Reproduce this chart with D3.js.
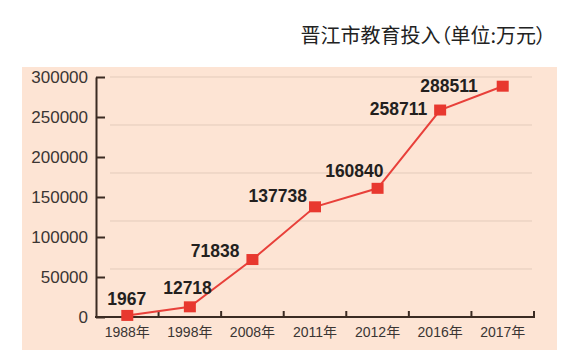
<!DOCTYPE html>
<html><head><meta charset="utf-8">
<script src="https://cdn.jsdelivr.net/npm/d3@7"></script>
<style>html,body{margin:0;padding:0;background:#fff;}svg{display:block;}.ttl{font-feature-settings:"palt" 1;}</style>
</head><body>
<svg id="c" width="578" height="360"></svg>
<script>
const title = "晋江市教育投入（单位:万元）";
const years = ["1988年","1998年","2008年","2011年","2012年","2016年","2017年"];
const values = [1967, 12718, 71838, 137738, 160840, 258711, 288511];
const yTicks = [0, 50000, 100000, 150000, 200000, 250000, 300000];
const gridValues = [60000, 120000, 180000, 240000, 300000];
// label placement (layout only): end-anchored offset from point
const labelDx = [19, 22, -13, -8, 6, -13, -25];
const labelDy = [-10, -13, -3, -5, -11, 5, 6];

(function () {
const svg = d3.select("#c");
const pLeft = 96, pRight = 534, pTop = 77, pBottom = 317;

svg.append("rect").attr("x", 22).attr("y", 67).attr("width", 535).attr("height", 283).attr("fill", "#fde4d4");

svg.append("text").attr("class", "ttl").attr("x", 546).attr("y", 43).attr("text-anchor", "end")
  .attr("font-family", "'Noto Sans CJK SC', sans-serif").attr("font-size", 20).attr("fill", "#222").text(title);

const x = d3.scaleBand().domain(years).range([pLeft, pRight]).padding(0);
const y = d3.scaleLinear().domain([0, 300000]).range([pBottom, pTop]);

// gridlines
svg.append("g").selectAll("line").data(gridValues).join("line")
  .attr("x1", 110).attr("x2", 532).attr("y1", d => y(d)).attr("y2", d => y(d))
  .attr("stroke", "#e3cbbb").attr("stroke-width", 1);

// y axis
const gy = svg.append("g").attr("transform", `translate(${pLeft},0)`)
  .call(d3.axisLeft(y).tickValues(yTicks).tickFormat(d3.format("d")).tickSizeInner(-9).tickSizeOuter(0).tickPadding(8));
gy.select(".domain").attr("stroke", "#3b2b22").attr("stroke-width", 2);
gy.selectAll(".tick line").attr("stroke", "#3b2b22").attr("stroke-width", 2);
gy.selectAll("text").attr("font-family", "'Liberation Sans', Arial, sans-serif").attr("font-size", 17).attr("fill", "#3a3533");

// x axis
const gx = svg.append("g").attr("transform", `translate(0,${pBottom})`)
  .call(d3.axisBottom(x).tickSize(0).tickPadding(10));
gx.select(".domain").remove();
gx.selectAll("text").attr("font-family", "'Liberation Sans', 'Noto Sans CJK SC', sans-serif").attr("font-size", 14).attr("fill", "#3a3533");
svg.append("line").attr("x1", pLeft - 1).attr("x2", pRight + 1).attr("y1", pBottom).attr("y2", pBottom)
  .attr("stroke", "#3b2b22").attr("stroke-width", 2);
const bounds = years.slice(1).map(d => x(d)).concat([pRight]);
svg.append("g").selectAll("line").data(bounds).join("line")
  .attr("x1", d => d).attr("x2", d => d).attr("y1", pBottom).attr("y2", pBottom - 6)
  .attr("stroke", "#3b2b22").attr("stroke-width", 2);

const cx = (d, i) => x(years[i]) + x.bandwidth() / 2;
const line = d3.line().x((d, i) => cx(d, i)).y(d => y(d));
svg.append("path").datum(values).attr("d", line).attr("fill", "none").attr("stroke", "#e8403a").attr("stroke-width", 2);

svg.append("g").selectAll("rect").data(values).join("rect")
  .attr("x", (d, i) => cx(d, i) - 6).attr("y", d => y(d) - 5.5).attr("width", 12).attr("height", 11)
  .attr("fill", "#e8382f");

svg.append("g").selectAll("text").data(values).join("text")
  .attr("x", (d, i) => cx(d, i) + labelDx[i]).attr("y", (d, i) => y(d) + labelDy[i])
  .attr("text-anchor", "end").attr("font-family", "'Liberation Sans', Arial, sans-serif")
  .attr("font-weight", "bold").attr("font-size", 17.5).attr("fill", "#231f1e").text(d => d);
})();
</script>
</body></html>
